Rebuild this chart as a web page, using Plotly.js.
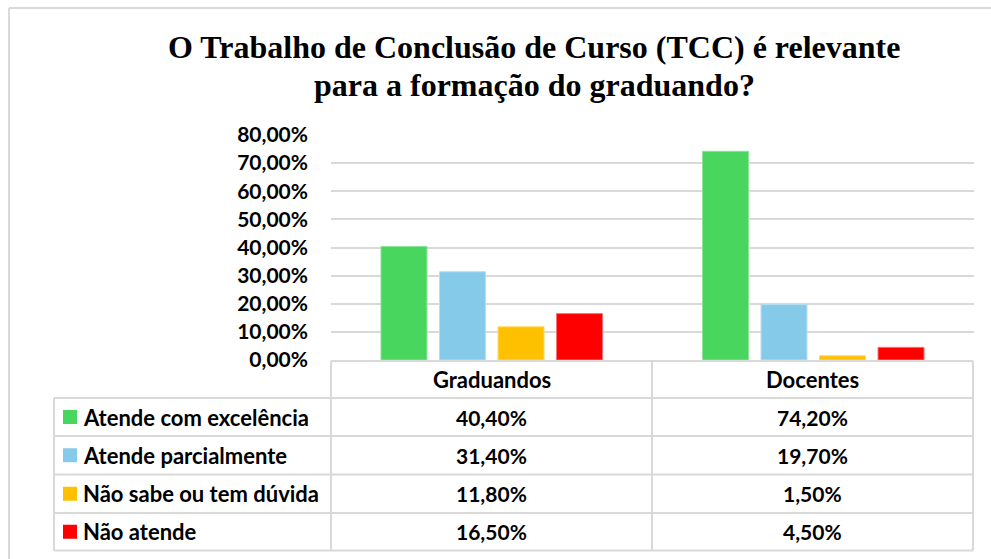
<!DOCTYPE html>
<html><head><meta charset="utf-8">
<script src="https://cdn.plot.ly/plotly-3.0.1.min.js"></script>
<style>html,body{margin:0;padding:0;background:#fff}#chart{width:991px;height:559px}</style>
</head><body><div id="chart"></div>
<script>
const categories = ['Graduandos', 'Docentes'];
const seriesNames = ['Atende com excelência', 'Atende parcialmente', 'Não sabe ou tem dúvida', 'Não atende'];
const atendeExcelencia = [40.4, 74.2];
const atendeParcialmente = [31.4, 19.7];
const naoSabe = [11.8, 1.5];
const naoAtende = [16.5, 4.5];
const tickValues = [0, 10, 20, 30, 40, 50, 60, 70, 80];
const titleLines = ['O Trabalho de Conclusão de Curso (TCC) é relevante', 'para a formação do graduando?'];

const seriesValues = [atendeExcelencia, atendeParcialmente, naoSabe, naoAtende];
const colors = ['#48d65e', '#86caea', '#ffc000', '#ff0000'];
const lineColors = ['#8ee39a', '#b7def2', '#ffd966', '#ff7070'];

const W = 991, H = 559, L = 331, R = 974, T = 135, B = 360;
const px = x => (x - L) / (R - L);
const py = y => (B - y) / (B - T);
const fmt = v => v.toFixed(2).replace('.', ',') + '%';

const traces = seriesNames.map((n, i) => ({
  type: 'bar', name: n, x: categories, y: seriesValues[i],
  marker: {color: colors[i], line: {color: lineColors[i], width: 1}},
  hoverinfo: 'skip'
}));

const gridCol = '#d9d9d9';
const shapes = [];
const ann = [];
const lw = 2;
shapes.push({type: 'line', xref: 'paper', yref: 'paper', x0: px(9), x1: px(995), y0: py(8), y1: py(8), line: {color: '#d9d9d9', width: 2}});
shapes.push({type: 'line', xref: 'paper', yref: 'paper', x0: px(9), x1: px(9), y0: py(8), y1: py(565), line: {color: '#d9d9d9', width: 2}});
const titleFont = {family: '"Liberation Serif", "Times New Roman", serif', size: 32, color: '#000'};
titleLines.forEach((t, k) => {
  ann.push({xref: 'paper', yref: 'paper', x: px(534), y: py(47 + 38 * k), text: '<b>' + t + '</b>', showarrow: false,
    font: titleFont, xanchor: 'center', yanchor: 'middle'});
});
const colX = [54, 331, 652, 973];
const rowY = [361, 398, 436, 474.5, 513, 550.5];
shapes.push({type: 'line', xref: 'paper', yref: 'paper', x0: px(331), x1: px(973), y0: py(rowY[0]), y1: py(rowY[0]), line: {color: gridCol, width: lw}});
for (let r = 1; r < rowY.length; r++) {
  shapes.push({type: 'line', xref: 'paper', yref: 'paper', x0: px(54), x1: px(973), y0: py(rowY[r]), y1: py(rowY[r]), line: {color: gridCol, width: lw}});
}
shapes.push({type: 'line', xref: 'paper', yref: 'paper', x0: px(54), x1: px(54), y0: py(rowY[1]), y1: py(rowY[5]), line: {color: gridCol, width: lw}});
for (let c = 1; c < colX.length; c++) {
  shapes.push({type: 'line', xref: 'paper', yref: 'paper', x0: px(colX[c]), x1: px(colX[c]), y0: py(rowY[0]), y1: py(rowY[5]), line: {color: gridCol, width: lw}});
}
const fam = 'Lato, Open Sans, sans-serif';
const numFont = {family: fam, size: 21, color: '#000', weight: 'bold'};
const lblFont = {family: fam, size: 22, color: '#000', weight: 'bold'};
categories.forEach((c, j) => {
  ann.push({xref: 'paper', yref: 'paper', x: px((colX[j + 1] + colX[j + 2]) / 2), y: py((rowY[0] + rowY[1]) / 2),
    text: '<b>' + c + '</b>', showarrow: false, font: lblFont, xanchor: 'center', yanchor: 'middle'});
});
seriesNames.forEach((n, i) => {
  const yc = (rowY[i + 1] + rowY[i + 2]) / 2;
  shapes.push({type: 'rect', xref: 'paper', yref: 'paper', x0: px(63), x1: px(77), y0: py(yc - 7), y1: py(yc + 7), fillcolor: colors[i], line: {width: 0}});
  ann.push({xref: 'paper', yref: 'paper', x: px(81), y: py(yc), text: '<b>' + n + '</b>', showarrow: false, font: lblFont, xanchor: 'left', yanchor: 'middle'});
  categories.forEach((c, j) => {
    ann.push({xref: 'paper', yref: 'paper', x: px((colX[j + 1] + colX[j + 2]) / 2), y: py(yc),
      text: '<b>' + fmt(seriesValues[i][j]) + '</b>', showarrow: false, font: numFont, xanchor: 'center', yanchor: 'middle'});
  });
});

const layout = {
  width: W, height: H,
  margin: {l: L, r: W - R, t: T, b: H - B, pad: 0},
  paper_bgcolor: '#fff', plot_bgcolor: '#fff',
  showlegend: false,
  barmode: 'group', bargap: 0.272, bargroupgap: 0.214,
  xaxis: {showticklabels: false, showline: false, showgrid: false, zeroline: false, ticks: ''},
  yaxis: {range: [0, 80], tickmode: 'array', tickvals: tickValues, ticktext: tickValues.map(v => '<b>' + fmt(v) + '</b>'),
    showgrid: true, gridcolor: gridCol, gridwidth: 2, zeroline: false, showline: false, ticks: '',
    ticklabelstandoff: 22,
    tickfont: numFont},
  shapes: shapes, annotations: ann
};
Plotly.newPlot('chart', traces, layout, {displayModeBar: false, staticPlot: true});
</script></body></html>
